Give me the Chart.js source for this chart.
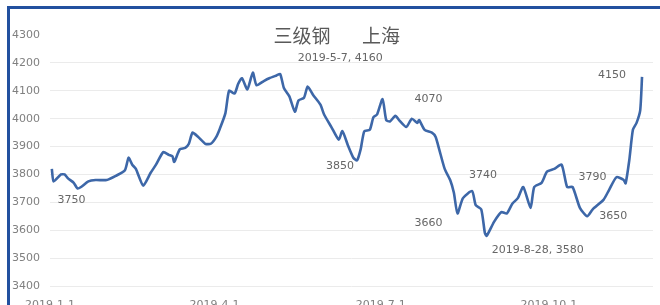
<!DOCTYPE html>
<html>
<head>
<meta charset="utf-8">
<script src="https://cdn.jsdelivr.net/npm/chart.js@4"></script>
<style>
  html, body { margin: 0; padding: 0; background: #fff; }
  #wrap { position: relative; width: 660px; height: 305px; overflow: hidden; }
  #frame { position: absolute; left: 7px; top: 6px; width: 700px; height: 400px;
           border-top: 3px solid #22509f; border-left: 3px solid #22509f; pointer-events: none; }
</style>
</head>
<body>
<div id="wrap"><canvas id="c"></canvas><div id="frame"></div></div>
<script>
  // 三级钢 上海, 2019 daily-ish prices
  const dates = [
    '1-2','1-3','1-7','1-9','1-11','1-14','1-16','1-18','1-22','1-26',
    '2-1','2-6','2-11','2-13','2-15','2-17','2-21','2-25','2-28',
    '3-4','3-7','3-9','3-10','3-13','3-16','3-18','3-20','3-23','3-27','3-30',
    '4-2','4-4','4-7','4-9','4-12','4-14','4-16','4-19','4-22','4-24','4-28',
    '5-1','5-5','5-7','5-9','5-12','5-15','5-17','5-20','5-22','5-25','5-29','5-31',
    '6-4','6-8','6-10','6-13','6-16','6-18','6-20','6-22','6-25','6-27','6-29',
    '7-2','7-4','7-6','7-9','7-11','7-15','7-18','7-21','7-22','7-25','7-29','7-31',
    '8-2','8-5','8-8','8-10','8-12','8-15','8-20','8-22','8-25','8-27','8-28',
    '9-1','9-5','9-8','9-11','9-14','9-17','9-21','9-23','9-27','9-30',
    '10-4','10-8','10-11','10-14','10-18','10-22','10-25','10-31',
    '11-3','11-7','11-11','11-12','11-14','11-16','11-18','11-20','11-21'
  ];
  const prices = [
    3820,3775,3800,3800,3785,3770,3750,3755,3775,3780,
    3780,3795,3815,3860,3835,3820,3760,3805,3835,
    3880,3870,3865,3845,3890,3895,3910,3950,3935,3910,3910,
    3935,3965,4020,4100,4090,4125,4145,4105,4165,4120,4135,
    4145,4155,4160,4110,4080,4025,4065,4075,4115,4085,4050,4015,
    3970,3925,3955,3905,3860,3850,3890,3955,3960,4005,4015,
    4070,3995,3990,4010,3995,3970,4000,3985,3995,3960,3950,3935,
    3890,3820,3780,3735,3660,3715,3740,3690,3675,3590,3580,
    3630,3665,3660,3695,3715,3755,3680,3755,3770,3810,
    3820,3835,3755,3755,3680,3650,3675,3710,
    3745,3790,3780,3768,3850,3960,3985,4030,4150
  ];
  const tickDates = ['2019-1-1','2019-4-1','2019-7-1','2019-10-1'];

  // labelled points: which date, whether the date is shown, and where the text sits
  const callouts = [
    { date: '1-16',  full: false, dx: -6,  dy: 12 },
    { date: '5-7',   full: true,  dx: 60,  dy: -16 },
    { date: '6-18',  full: false, dx: -17, dy: 6 },
    { date: '7-2',   full: false, dx: 46,  dy: 0 },
    { date: '8-12',  full: false, dx: -29, dy: 10 },
    { date: '8-20',  full: false, dx: 11,  dy: -16 },
    { date: '8-28',  full: true,  dx: 51,  dy: 14 },
    { date: '10-22', full: false, dx: 26,  dy: 0 },
    { date: '11-7',  full: false, dx: -24, dy: 0 },
    { date: '11-21', full: false, dx: -30, dy: -2 }
  ];

  const DAY = 864e5;
  const dayOf = (s) => {
    const p = s.split('-').map(Number);
    const [m, d] = p.length === 3 ? [p[1], p[2]] : p;
    return Math.round((Date.UTC(2019, m - 1, d) - Date.UTC(2019, 0, 1)) / DAY);
  };
  const points = dates.map((d, i) => ({ x: dayOf(d), y: prices[i] }));
  const tickDays = tickDates.map(dayOf);

  const FONT = '"DejaVu Sans", sans-serif';

  const titlePlugin = {
    id: 'title3',
    afterDraw(chart) {
      const ctx = chart.ctx;
      ctx.save();
      ctx.fillStyle = '#595959';
      ctx.font = '19px "Noto Sans CJK SC"';
      ctx.textAlign = 'center';
      ctx.textBaseline = 'middle';
      ctx.fillText('三级钢', 302, 36);
      ctx.fillText('上海', 381, 36);
      ctx.restore();
    }
  };

  const calloutPlugin = {
    id: 'callouts',
    afterDatasetsDraw(chart) {
      const ctx = chart.ctx, xs = chart.scales.x, ys = chart.scales.y;
      ctx.save();
      ctx.fillStyle = '#666';
      ctx.font = '11px ' + FONT;
      ctx.textAlign = 'center';
      ctx.textBaseline = 'middle';
      callouts.forEach(c => {
        const i = dates.indexOf(c.date);
        const x = xs.getPixelForValue(points[i].x);
        const y = ys.getPixelForValue(points[i].y);
        const txt = c.full ? `2019-${c.date}, ${prices[i]}` : String(prices[i]);
        ctx.fillText(txt, x + c.dx, y + c.dy);
      });
      ctx.restore();
    }
  };

  new Chart(document.getElementById('c'), {
    type: 'line',
    data: {
      datasets: [{
        data: points,
        borderColor: '#3d67a8',
        borderWidth: 2.6,
        pointRadius: 0,
        tension: 0.2,
        fill: false
      }]
    },
    options: {
      responsive: true,
      maintainAspectRatio: false,
      animation: false,
      layout: { padding: { top: 35, right: 7, left: 0, bottom: 0 } },
      plugins: { legend: { display: false }, tooltip: { enabled: false } },
      scales: {
        x: {
          type: 'linear', min: 0, max: 330,
          grid: { display: false },
          border: { display: false },
          afterBuildTicks: (s) => { s.ticks = tickDays.map(v => ({ value: v })); },
          afterFit: (s) => { s.height = 19; },
          ticks: {
            autoSkip: false, maxRotation: 0, padding: 5, color: '#808080',
            font: { family: FONT, size: 11 },
            callback: (v) => tickDates[tickDays.indexOf(v)] || ''
          }
        },
        y: {
          min: 3400, max: 4300,
          border: { display: false },
          grid: {
            drawTicks: false,
            color: (c) => c.tick && c.tick.value === 4300 ? 'rgba(0,0,0,0)' : '#ebebeb'
          },
          afterFit: (s) => { s.width = 50; },
          ticks: {
            stepSize: 100, padding: 10, color: '#808080',
            font: { family: FONT, size: 11 },
            callback: (v) => String(v)
          }
        }
      }
    },
    plugins: [titlePlugin, calloutPlugin]
  });
</script>
</body>
</html>
